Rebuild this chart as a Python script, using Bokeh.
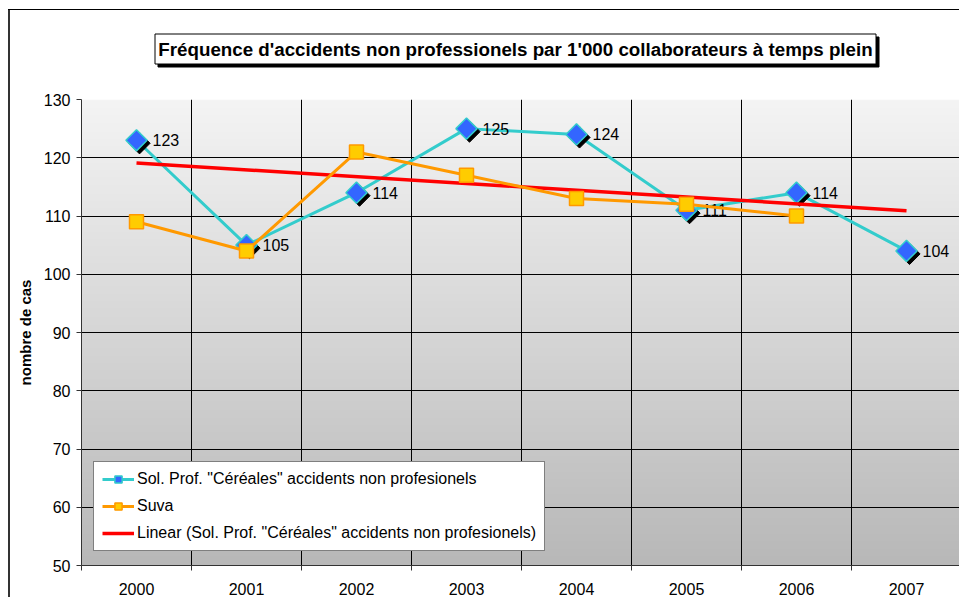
import numpy as np
from bokeh.plotting import figure
from bokeh.layouts import column
from bokeh.models import (Range1d, FixedTicker, Legend, LegendItem,
                          ColumnDataSource)
from bokeh.transform import dodge
from bokeh.core.properties import value
from bokeh.embed import file_html
from bokeh.resources import INLINE

# ---------------- data ----------------
years = ["2000", "2001", "2002", "2003", "2004", "2005", "2006", "2007"]
sol_values = [123, 105, 114, 125, 124, 111, 114, 104]
suva_years = ["2000", "2001", "2002", "2003", "2004", "2005", "2006"]
suva_values = [109, 104, 121, 117, 113, 112, 110]
y_ticks = [50, 60, 70, 80, 90, 100, 110, 120, 130]

title_text = "Fréquence d'accidents non professionels par 1'000 collaborateurs à temps plein"
y_label_text = "nombre de cas"
sol_name = 'Sol. Prof. "Céréales" accidents non profesionels'
suva_name = "Suva"
trend_name = 'Linear (Sol. Prof. "Céréales" accidents non profesionels)'

FONT = "Liberation Sans"

# positions on the numeric x scale (category centres / boundaries)
xpos = {y: i + 0.5 for i, y in enumerate(years)}
sol_x = [xpos[y] for y in years]
suva_x = [xpos[y] for y in suva_years]
boundaries = list(range(0, len(years) + 1))

# linear trendline of the Sol. Prof. series
idx = np.arange(len(sol_values))
slope, intercept = np.polyfit(idx, sol_values, 1)
trend_x = [sol_x[0], sol_x[-1]]
trend_y = [intercept + slope * idx[0], intercept + slope * idx[-1]]

y_lo, y_hi = y_ticks[0], y_ticks[-1]

# ---------------- layout constants (pixels) ----------------
W, H = 959, 597
TOP_H = 89                      # height of the title strip
FL, FB, FT = 81, 32, 10         # chart frame left / bottom / top borders
px_x = 110.0                    # pixels per category
CH = H - TOP_H                  # chart figure height
px_y = (CH - FB - FT) / (y_hi - y_lo)

# ---------------- title strip (page pixel coordinates, y downwards) ----------------
t = figure(width=W, height=TOP_H, output_backend="svg", toolbar_location=None,
           tools="", x_range=Range1d(FL, W), y_range=Range1d(TOP_H, 0),
           min_border=0, min_border_left=FL, x_axis_location=None, y_axis_location=None)
t.grid.visible = False
t.outline_line_color = None
t.border_fill_color = None
t.background_fill_color = None
BX0, BY0, BX1, BY1 = 154.5, 33.5, 875.5, 63.5
t.quad(left=BX0 + 3, right=BX1 + 3, top=BY0 + 3, bottom=BY1 + 3,
       fill_color="black", line_color="black", line_width=1)
t.quad(left=BX0, right=BX1, top=BY0, bottom=BY1,
       fill_color="white", line_color="black", line_width=1)
t.text(x=[515], y=[48.5], text=[title_text], text_align="center",
       text_baseline="middle", text_font=value(FONT), text_font_style="bold",
       text_font_size="18.75px", text_color="black")

# ---------------- chart ----------------
p = figure(width=W, height=CH, output_backend="svg", toolbar_location=None,
           tools="", x_range=Range1d(0, (W - FL) / px_x), y_range=Range1d(y_lo, y_hi),
           min_border_left=FL, min_border_top=FT, min_border_right=0,
           min_border_bottom=FB)
p.outline_line_color = None
p.border_fill_color = None
p.background_fill_color = None

# gradient plot-area background
n = 256
tt = np.linspace(0, 1, n)  # 0 bottom -> 1 top
top_c = np.array([0xF4, 0xF4, 0xF4])
bot_c = np.array([0xB8, 0xB8, 0xB8])
cols = (bot_c[None, :] + (top_c - bot_c)[None, :] * tt[:, None]).astype(np.uint8)
rgba = np.zeros((n, 1, 4), dtype=np.uint8)
rgba[:, 0, :3] = cols
rgba[:, 0, 3] = 255
img = rgba.view(dtype=np.uint32).reshape((n, 1))
p.image_rgba(image=[img], x=0, y=y_lo, dw=len(years), dh=y_hi - y_lo, level="image")

# grids
p.xgrid.ticker = FixedTicker(ticks=boundaries[1:])
p.xgrid.grid_line_color = "black"
p.xgrid.grid_line_width = 1
p.ygrid.ticker = FixedTicker(ticks=y_ticks)
p.ygrid.grid_line_color = "black"
p.ygrid.grid_line_width = 1

# axes
p.yaxis.ticker = FixedTicker(ticks=y_ticks)
p.yaxis.major_tick_in = 0
p.yaxis.major_tick_out = 5
p.yaxis.minor_tick_line_color = None
p.yaxis.axis_line_color = "#333333"
p.yaxis.major_tick_line_color = "#333333"
p.yaxis.major_label_text_font = FONT
p.yaxis.major_label_text_font_size = "16px"
p.yaxis.major_label_text_color = "black"
p.yaxis.major_label_standoff = 6
p.yaxis.axis_label = y_label_text
p.yaxis.axis_label_text_font = FONT
p.yaxis.axis_label_text_font_style = "bold"
p.yaxis.axis_label_text_font_size = "15px"
p.yaxis.axis_label_text_color = "black"
p.yaxis.axis_label_standoff = 7

p.xaxis.ticker = FixedTicker(ticks=sol_x, minor_ticks=boundaries)
p.xaxis.major_label_overrides = {xpos[y]: y for y in years}
p.xaxis.major_tick_in = 0
p.xaxis.major_tick_out = 0
p.xaxis.minor_tick_in = 0
p.xaxis.minor_tick_out = 5
p.xaxis.minor_tick_line_color = "#333333"
p.xaxis.axis_line_color = "#333333"
p.xaxis.major_label_text_font = FONT
p.xaxis.major_label_text_font_size = "16px"
p.xaxis.major_label_text_color = "black"
p.xaxis.major_label_standoff = 12

# ---------------- series ----------------
sol_src = ColumnDataSource(dict(x=sol_x, y=sol_values, lab=[str(v) for v in sol_values]))
suva_src = ColumnDataSource(dict(x=suva_x, y=suva_values))

sol_line = p.line("x", "y", source=sol_src, line_color="#33CCCC", line_width=3)
# marker shadow
p.scatter(dodge("x", 3 / px_x, range=p.x_range), dodge("y", -3 / px_y, range=p.y_range),
          source=sol_src, marker="square", angle=np.pi / 4, size=15,
          fill_color="black", line_color="black")
sol_mark = p.scatter("x", "y", source=sol_src, marker="square", angle=np.pi / 4, size=15,
                     fill_color="#3366FF", line_color="#33CCCC", line_width=1.5)
p.text("x", "y", text="lab", source=sol_src, x_offset=16, text_baseline="middle",
       text_font=value(FONT), text_font_size="16px", text_color="black")

trend = p.line(trend_x, trend_y, line_color="#FF0000", line_width=3.5)

suva_line = p.line("x", "y", source=suva_src, line_color="#FF9900", line_width=3)
suva_mark = p.scatter("x", "y", source=suva_src, marker="square", size=14,
                      fill_color="#FFCC00", line_color="#FF9900", line_width=1.5)

# ---------------- legend ----------------
legend = Legend(items=[
    LegendItem(label=sol_name, renderers=[sol_line, sol_mark]),
    LegendItem(label=suva_name, renderers=[suva_line, suva_mark]),
    LegendItem(label=trend_name, renderers=[trend]),
], location=(12, 14))
legend.margin = 0
legend.padding = 8
legend.spacing = 9
legend.glyph_width = 32
legend.glyph_height = 18
legend.label_height = 18
legend.label_standoff = 3
legend.label_text_font = FONT
legend.label_text_font_size = "16px"
legend.label_text_color = "black"
legend.border_line_color = "black"
legend.border_line_width = 1
legend.background_fill_color = "white"
legend.background_fill_alpha = 1
p.add_layout(legend)

# ---------------- page: outer chart border (left/top edges) ----------------
page = column(t, p, spacing=0, styles={
    "background-color": "white",
    "background-image": "linear-gradient(#000,#000), linear-gradient(#333,#333)",
    "background-size": "2000px 1px, 2px 2000px",
    "background-position": "8px 9px, 8px 9px",
    "background-repeat": "no-repeat",
})

open("out.html", "w").write(file_html(page, INLINE))
